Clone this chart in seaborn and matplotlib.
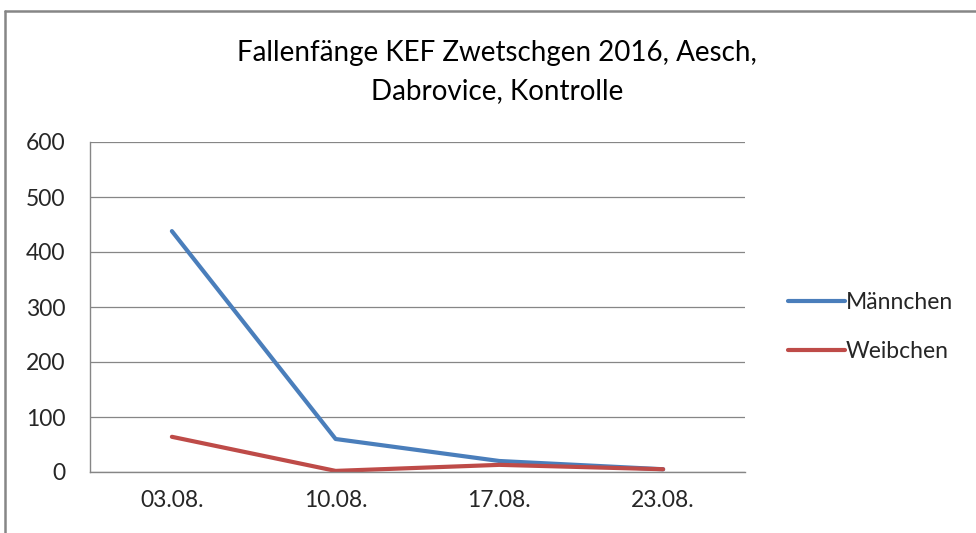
import matplotlib
matplotlib.use("Agg")
import matplotlib.pyplot as plt
import seaborn as sns
import pandas as pd
from matplotlib.lines import Line2D

dates = ["03.08.", "10.08.", "17.08.", "23.08."]
maennchen = [438, 60, 20, 5]
weibchen = [64, 2, 13, 5]
series_names = ["Männchen", "Weibchen"]
yticks = [0, 100, 200, 300, 400, 500, 600]

df = pd.DataFrame({
    "Datum": dates * 2,
    "Anzahl": maennchen + weibchen,
    "Serie": [series_names[0]] * 4 + [series_names[1]] * 4,
})

sns.set_style("white")
plt.rcParams["font.family"] = ["Lato", "DejaVu Sans"]

W, H = 976, 533
fig = plt.figure(figsize=(W / 100, H / 100), dpi=100)
ax = fig.add_axes([90 / W, 1 - 472 / H, (745 - 90) / W, (472 - 142) / H])

palette = {"Männchen": "#4A7EBB", "Weibchen": "#BE4B48"}
df["x"] = df["Datum"].map({d: i for i, d in enumerate(dates)})
sns.lineplot(data=df, x="x", y="Anzahl", hue="Serie", palette=palette,
             linewidth=3.0, ax=ax, legend=False, sort=False)

FS = 16.5
ax.set_xlim(-0.5, 3.5)
ax.set_ylim(0, 600)
ax.set_yticks(yticks)
ax.set_yticklabels([str(v) for v in yticks], fontsize=FS)
ax.set_xticks(range(4))
ax.set_xticklabels(dates, fontsize=FS)
ax.set_xticks([-0.5, 0.5, 1.5, 2.5, 3.5], minor=True)
ax.tick_params(axis="x", which="major", length=0, pad=13)
ax.tick_params(axis="x", which="minor", length=6, width=1, color="#868686", direction="out")
ax.tick_params(axis="y", which="major", length=6.5, width=1, color="#868686", direction="out", pad=11)
ax.set_xlabel("")
ax.set_ylabel("")
ax.grid(axis="y", color="#868686", linewidth=0.9)
ax.set_axisbelow(True)
for s in ["top", "right"]:
    ax.spines[s].set_visible(False)
for s in ["left", "bottom"]:
    ax.spines[s].set_color("#868686")
    ax.spines[s].set_linewidth(1)

fig.text(497 / W, 1 - 72 / H, "Fallenfänge KEF Zwetschgen 2016, Aesch,\nDabrovice, Kontrolle",
         ha="center", va="center", fontsize=20, linespacing=1.55, color="#000000")

handles = [Line2D([0], [0], color=palette[n], linewidth=3.0) for n in series_names]
leg = fig.legend(handles, series_names, loc="center left",
                 bbox_to_anchor=(767 / W, 1 - 327 / H), frameon=False,
                 fontsize=FS, handlelength=2.5, handletextpad=0.05,
                 labelspacing=1.25)

# outer chart border (top and left visible)
fig.add_artist(Line2D([5 / W, 5 / W], [0, 1 - 11 / H], transform=fig.transFigure,
                      color="#868686", linewidth=1.8))
fig.add_artist(Line2D([5 / W, 1], [1 - 11 / H, 1 - 11 / H], transform=fig.transFigure,
                      color="#868686", linewidth=1.8))

fig.savefig("out.png", dpi=100, facecolor="white")
